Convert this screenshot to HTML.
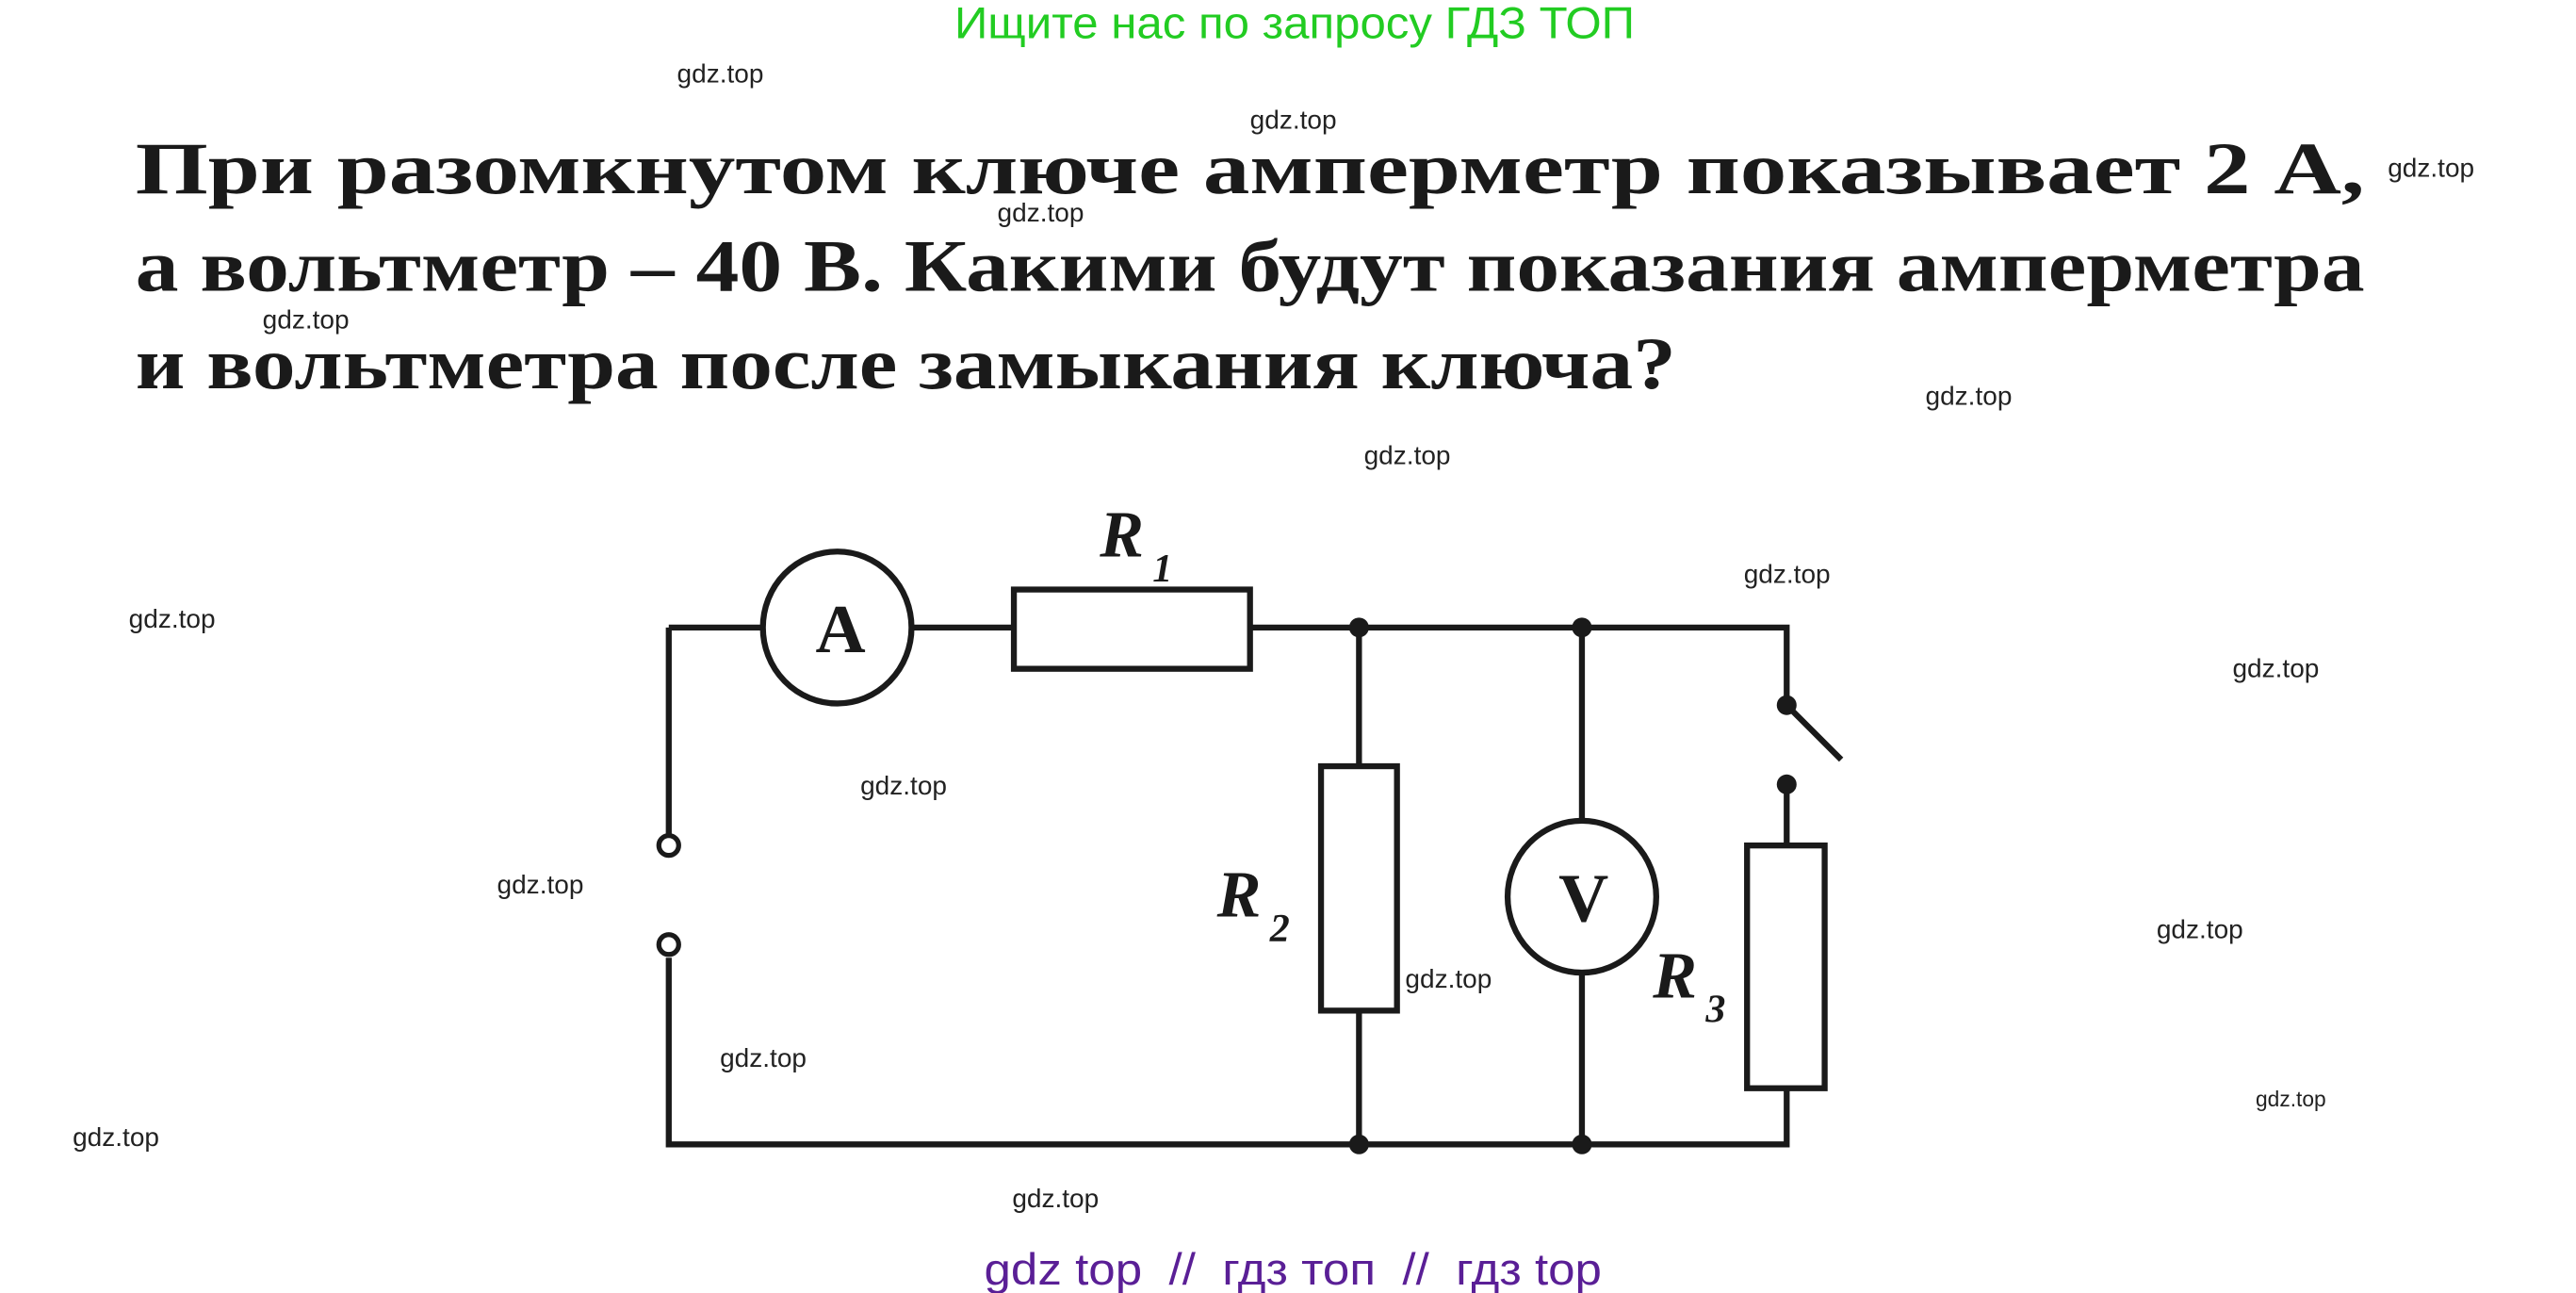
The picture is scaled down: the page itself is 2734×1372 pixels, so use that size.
<!DOCTYPE html>
<html><head><meta charset="utf-8"><style>
html,body{margin:0;padding:0;background:#fff;}
svg{display:block;}
.wm{font-family:"Liberation Sans",sans-serif;font-size:16px;fill:#222;}
.t{font-family:"Liberation Serif","Noto Serif CJK SC",serif;font-weight:bold;font-size:45px;fill:#1a1a1a;}
.lbl{font-family:"Liberation Serif",serif;font-weight:bold;font-style:italic;fill:#1a1a1a;}
</style></head><body>
<svg width="2734" height="1372" viewBox="0 0 1560 783" preserveAspectRatio="none" xmlns="http://www.w3.org/2000/svg">
<rect width="1560" height="783" fill="#fff"/>
<text x="578" y="23" textLength="412" lengthAdjust="spacingAndGlyphs" font-family="Liberation Sans, sans-serif" font-size="27" fill="#22cc22">Ищите нас по запросу ГДЗ ТОП</text>
<text class="t" x="82" y="117" textLength="1350" lengthAdjust="spacingAndGlyphs">При разомкнутом ключе амперметр показывает 2 А,</text>
<text class="t" x="82" y="176" textLength="1350" lengthAdjust="spacingAndGlyphs">а вольтметр – 40 В. Какими будут показания амперметра</text>
<text class="t" x="82" y="235" textLength="933" lengthAdjust="spacingAndGlyphs">и вольтметра после замыкания ключа?</text>

<g stroke="#1a1a1a" stroke-width="3.6" fill="none">
<path d="M405 380 H462 M552 380 H614 M757 380 H1082 V425"/>
<path d="M405 380 V505"/>
<path d="M405 580 V693 H1082 V659"/>
<ellipse cx="507" cy="380" rx="45" ry="46" fill="#fff"/>
<rect x="614" y="357" width="143" height="48" fill="#fff"/>
<path d="M823 380 V464 M823 612 V693"/>
<rect x="800" y="464" width="46" height="148" fill="#fff"/>
<path d="M958 380 V497 M958 589 V693"/>
<ellipse cx="958" cy="543" rx="45" ry="46" fill="#fff"/>
<path d="M1082 427 L1115 460"/>
<path d="M1082 475 V512"/>
<rect x="1058" y="512" width="47" height="147" fill="#fff"/>
<circle cx="405" cy="512" r="6" stroke-width="3" fill="#fff"/>
<circle cx="405" cy="572" r="6" stroke-width="3" fill="#fff"/>
</g>
<g fill="#1a1a1a">
<circle cx="823" cy="380" r="6"/><circle cx="958" cy="380" r="6"/>
<circle cx="823" cy="693" r="6"/><circle cx="958" cy="693" r="6"/>
<circle cx="1082" cy="427" r="6"/><circle cx="1082" cy="475" r="6"/>
</g>
<text x="509" y="395" text-anchor="middle" font-family="Liberation Serif,serif" font-weight="bold" font-size="42" fill="#1a1a1a">A</text>
<text x="959" y="558" text-anchor="middle" font-family="Liberation Serif,serif" font-weight="bold" font-size="42" fill="#1a1a1a">V</text>
<text class="lbl" x="666" y="337" font-size="40">R</text><text class="lbl" x="698" y="352" font-size="24">1</text>
<text class="lbl" x="737" y="555" font-size="40">R</text><text class="lbl" x="769" y="570" font-size="24">2</text>
<text class="lbl" x="1001" y="604" font-size="40">R</text><text class="lbl" x="1033" y="619" font-size="24">3</text>

<g class="wm">
<text x="410" y="50">gdz.top</text>
<text x="757" y="78">gdz.top</text>
<text x="1446" y="107">gdz.top</text>
<text x="604" y="134">gdz.top</text>
<text x="159" y="199">gdz.top</text>
<text x="1166" y="245">gdz.top</text>
<text x="826" y="281">gdz.top</text>
<text x="1056" y="353">gdz.top</text>
<text x="78" y="380">gdz.top</text>
<text x="1352" y="410">gdz.top</text>
<text x="521" y="481">gdz.top</text>
<text x="301" y="541">gdz.top</text>
<text x="1306" y="568">gdz.top</text>
<text x="851" y="598">gdz.top</text>
<text x="436" y="646">gdz.top</text>
<text x="1366" y="670" font-size="13">gdz.top</text>
<text x="44" y="694">gdz.top</text>
<text x="613" y="731">gdz.top</text>
</g>
<text x="596" y="778" textLength="374" lengthAdjust="spacingAndGlyphs" xml:space="preserve" font-family="Liberation Sans, sans-serif" font-size="27" fill="#5a1f96">gdz top  //  гдз топ  //  гдз top</text>
</svg>
</body></html>
